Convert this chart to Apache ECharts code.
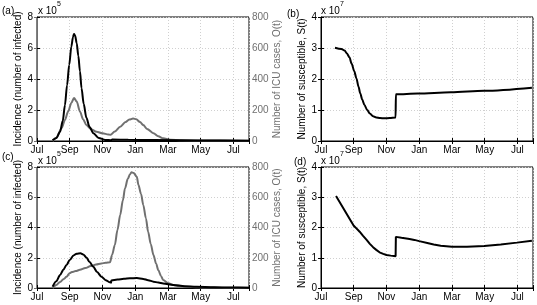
<!DOCTYPE html>
<html>
<head>
<meta charset="utf-8">
<script src="https://cdn.jsdelivr.net/npm/echarts@6/dist/echarts.min.js"></script>
<style>
  html, body { margin: 0; padding: 0; background: #fff; }
  #chart { width: 537px; height: 305px; }
</style>
</head>
<body>
<div id="chart"></div>
<script>
// x axis: days since 1 Jul, ticks every two months
var monthLabels = ['Jul', 'Sep', 'Nov', 'Jan', 'Mar', 'May', 'Jul'];

// (a) incidence (x 10^5) and ICU cases
var aInfDays = [29, 36, 43, 48, 52, 56, 60, 64, 67, 69, 71, 74, 77, 80, 83, 87, 92, 98, 105, 115, 127, 138, 140, 170, 220, 300, 395];
var aInfVals = [0.05, 0.2, 0.6, 1.3, 2.3, 3.6, 4.9, 6.1, 6.7, 6.9, 6.8, 6.3, 5.5, 4.5, 3.4, 2.4, 1.5, 0.9, 0.5, 0.2, 0.07, 0.05, 0.09, 0.08, 0.06, 0.04, 0.02];
var aIcuDays = [29, 36, 46, 52, 58, 64, 69, 74, 80, 86, 92, 100, 111, 122, 133, 137, 145, 155, 165, 172, 179, 185, 192, 198, 205, 217, 226, 235, 248, 270, 320, 395];
var aIcuVals = [0, 20, 84, 135, 190, 245, 278, 255, 190, 140, 103, 78, 60, 50, 42, 40, 62, 92, 122, 138, 145, 140, 122, 103, 78, 50, 30, 17, 8, 5, 3, 2];

// (b) susceptible (x 10^7)
var bDays = [26, 38, 44, 48, 53, 57, 62, 66, 70, 73, 77, 81, 86, 91, 97, 103, 110, 118, 128, 139, 139.5, 180, 242, 304, 393];
var bVals = [3.01, 2.97, 2.92, 2.83, 2.7, 2.5, 2.25, 2.02, 1.75, 1.54, 1.33, 1.16, 1.0, 0.89, 0.8, 0.76, 0.74, 0.73, 0.74, 0.76, 1.51, 1.53, 1.57, 1.62, 1.72];

// (c) incidence (x 10^5) and ICU cases
var cInfDays = [29, 36, 43, 49, 55, 61, 68, 74, 81, 86, 92, 98, 105, 112, 120, 128, 136, 138, 138.5, 150, 162, 173, 186, 198, 207, 217, 226, 235, 254, 275, 297, 330, 359, 395];
var cInfVals = [0.09, 0.45, 0.86, 1.2, 1.52, 1.85, 2.15, 2.27, 2.3, 2.22, 2.02, 1.72, 1.4, 1.05, 0.75, 0.52, 0.38, 0.35, 0.5, 0.56, 0.61, 0.64, 0.66, 0.6, 0.52, 0.42, 0.36, 0.3, 0.2, 0.12, 0.09, 0.05, 0.03, 0.02];
var cIcuDays = [29, 36, 43, 50, 55, 61, 65, 72, 80, 90, 100, 110, 120, 128, 136, 140, 145, 150, 155, 160, 164, 169, 173, 176, 180, 186, 189, 194, 198, 203, 207, 212, 217, 222, 226, 231, 235, 245, 254, 265, 279, 300, 316, 350, 395];
var cIcuVals = [0, 20, 40, 60, 75, 98, 105, 112, 120, 132, 145, 155, 162, 167, 170, 220, 284, 385, 483, 580, 659, 720, 750, 765, 760, 736, 681, 620, 549, 460, 372, 290, 218, 160, 119, 80, 53, 31, 20, 13, 8, 5, 3, 2, 1];

// (d) susceptible (x 10^7)
var dDays = [28, 61, 66, 72, 78, 85, 91, 97, 103, 109, 116, 122, 130, 139, 139.5, 150, 165, 174, 183, 198, 210, 223, 244, 272, 304, 335, 365, 393];
var dVals = [3.04, 2.06, 1.97, 1.86, 1.73, 1.59, 1.46, 1.35, 1.26, 1.18, 1.13, 1.09, 1.07, 1.05, 1.69, 1.66, 1.62, 1.59, 1.55, 1.49, 1.44, 1.40, 1.36, 1.36, 1.39, 1.44, 1.5, 1.56];

function zip(xs, ys) {
    return xs.map(function (x, i) { return [x, ys[i]]; });
}

var FONT = '"Liberation Sans", Arial, sans-serif';
var GRAY = '#707070';

var grids = [
    { left: 37, top: 17, width: 212, height: 124 },
    { left: 321, top: 17, width: 212, height: 124 },
    { left: 37, top: 167, width: 212, height: 121 },
    { left: 321, top: 167, width: 212, height: 121 }
];
grids.forEach(function (g) {
    g.show = true;
    g.borderColor = '#000';
    g.borderWidth = 1;
    g.backgroundColor = 'transparent';
});

function xAxisFor(idx) {
    return {
        type: 'value', gridIndex: idx, min: 0, max: 395, interval: 61,
        axisLine: { lineStyle: { color: '#000', width: 1 } },
        axisTick: { inside: true, length: 3, lineStyle: { color: '#000' } },
        axisLabel: {
            color: '#000', fontSize: 10, fontFamily: FONT, margin: 4,
            formatter: function (v) {
                return v % 61 === 0 ? monthLabels[v / 61] : '';
            }
        },
        splitLine: { show: true, lineStyle: { color: '#d0d0d0', type: [1, 2], width: 1 } }
    };
}

// top edge: ticks only, like a boxed matlab axes
function xTopFor(idx) {
    return {
        type: 'value', gridIndex: idx, min: 0, max: 395, interval: 61, position: 'top',
        axisLine: { show: false },
        axisTick: { inside: true, length: 3, lineStyle: { color: '#000' } },
        axisLabel: { show: false },
        splitLine: { show: false }
    };
}

function leftAxis(idx, max, interval, name) {
    return {
        type: 'value', gridIndex: idx, min: 0, max: max, interval: interval, position: 'left',
        name: name, nameLocation: 'middle', nameGap: 9,
        nameTextStyle: { color: '#000', fontSize: 10, fontFamily: FONT },
        axisLine: { show: true, lineStyle: { color: '#000', width: 1 } },
        axisTick: { show: true, inside: true, length: 3, lineStyle: { color: '#000' } },
        axisLabel: { color: '#000', fontSize: 10, fontFamily: FONT, margin: 4 },
        splitLine: { show: true, lineStyle: { color: '#d0d0d0', type: [1, 2], width: 1 } }
    };
}

function rightTicks(idx, max, interval) {
    return {
        type: 'value', gridIndex: idx, min: 0, max: max, interval: interval, position: 'right',
        axisLine: { show: false },
        axisTick: { show: true, inside: true, length: 3, lineStyle: { color: '#000' } },
        axisLabel: { show: false },
        splitLine: { show: false }
    };
}

function rightAxis(idx, name) {
    return {
        type: 'value', gridIndex: idx, min: 0, max: 800, interval: 200, position: 'right',
        name: name, nameLocation: 'middle', nameGap: 22,
        nameTextStyle: { color: GRAY, fontSize: 10, fontFamily: FONT },
        axisLine: { show: true, lineStyle: { color: GRAY, width: 1 } },
        axisTick: { show: true, inside: true, length: 3, lineStyle: { color: GRAY } },
        axisLabel: { color: GRAY, fontSize: 10, fontFamily: FONT, margin: 3 },
        splitLine: { show: false }
    };
}

function line(xIdx, yIdx, data, color, z, smooth) {
    return {
        type: 'line', xAxisIndex: xIdx, yAxisIndex: yIdx, data: data,
        showSymbol: false, symbol: 'none',
        smooth: smooth === undefined ? 0.3 : smooth, smoothMonotone: 'x',
        lineStyle: { color: color, width: 2 }, z: z, silent: true
    };
}

function txt(x, y, s, size) {
    return {
        type: 'text', left: x, top: y, silent: true,
        style: { text: s, fill: '#000', fontSize: size || 10, fontFamily: FONT }
    };
}

var chart = echarts.init(document.getElementById('chart'), null, { renderer: 'canvas' });
chart.setOption({
    animation: false,
    backgroundColor: '#fff',
    grid: grids,
    xAxis: [xAxisFor(0), xAxisFor(1), xAxisFor(2), xAxisFor(3),
        xTopFor(0), xTopFor(1), xTopFor(2), xTopFor(3)],
    yAxis: [
        leftAxis(0, 8, 2, 'Incidence (number of infected)'),
        rightAxis(0, 'Number of ICU cases, O(t)'),
        leftAxis(1, 4, 1, 'Number of susceptible, S(t)'),
        leftAxis(2, 8, 2, 'Incidence (number of infected)'),
        rightAxis(2, 'Number of ICU cases, O(t)'),
        leftAxis(3, 4, 1, 'Number of susceptible, S(t)'),
        rightTicks(1, 4, 1),
        rightTicks(3, 4, 1)
    ],
    series: [
        line(0, 1, zip(aIcuDays, aIcuVals), GRAY, 2),
        line(0, 0, zip(aInfDays, aInfVals), '#000', 3),
        line(1, 2, zip(bDays, bVals), '#000', 3),
        line(2, 4, zip(cIcuDays, cIcuVals), GRAY, 2),
        line(2, 3, zip(cInfDays, cInfVals), '#000', 3),
        line(3, 5, zip(dDays, dVals), '#000', 3, false)
    ],
    graphic: [
        txt(2, 6, '(a)'),
        txt(38, 6, 'x 10'),
        txt(57, 1, '5', 7),
        txt(287, 9, '(b)'),
        txt(321, 6, 'x 10'),
        txt(340, 1, '7', 7),
        txt(2, 152, '(c)'),
        txt(38, 156, 'x 10'),
        txt(57, 151, '5', 7),
        txt(294, 157, '(d)'),
        txt(321, 156, 'x 10'),
        txt(340, 151, '7', 7)
    ]
});
</script>
</body>
</html>
